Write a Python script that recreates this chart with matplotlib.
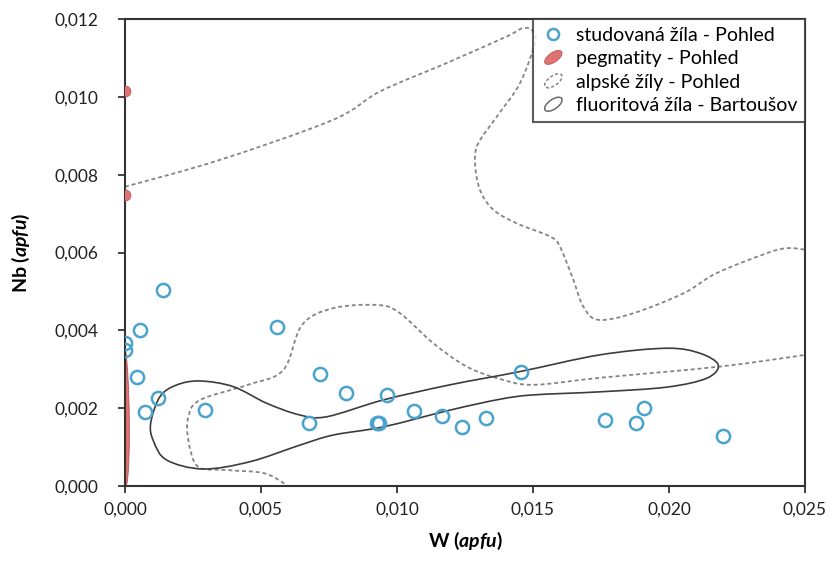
import matplotlib
matplotlib.use("Agg")
import numpy as np
import matplotlib.pyplot as plt
from matplotlib.patches import Ellipse, PathPatch
from matplotlib.path import Path
from matplotlib.legend_handler import HandlerPatch
from matplotlib.lines import Line2D

plt.rcParams['font.family'] = ['Lato', 'DejaVu Sans']
plt.rcParams['mathtext.fontset'] = 'custom'
plt.rcParams['mathtext.it'] = 'Lato:italic:bold'
plt.rcParams['mathtext.rm'] = 'Lato:bold'

# studied vein - Pohled (values in 1e-3 apfu)
w_vein = [0.0, 0.0, 0.55, 0.44, 0.74, 1.2, 1.4, 2.94, 5.59, 6.76, 7.17, 8.12,
          9.26, 9.33, 9.63, 10.63, 11.65, 12.39, 13.27, 14.56, 17.65, 18.79,
          19.08, 21.99]
nb_vein = [3.68, 3.5, 4.01, 2.8, 1.9, 2.26, 5.04, 1.95, 4.09, 1.62, 2.88, 2.39,
           1.62, 1.63, 2.34, 1.93, 1.8, 1.52, 1.75, 2.93, 1.7, 1.62, 2.0, 1.29]

# pegmatites - Pohled
w_peg = [0.0, 0.0]
nb_peg = [10.15, 7.48]
peg_field_w = [0.0, 0.07, 0.13, 0.16, 0.14, 0.08, 0.0, -0.08, -0.14, -0.16, -0.13, -0.07]
peg_field_nb = [3.55, 3.2, 2.5, 1.5, 0.6, 0.1, 0.0, 0.1, 0.6, 1.5, 2.5, 3.2]

# alpine veins - Pohled (dashed field, two visible branches)
alp_a_w = [0.0, 3.49, 7.65, 9.38, 11.83, 14.03, 14.64, 15.01, 15.07, 14.52, 13.67,
           12.99, 12.87, 13.05, 13.54, 14.40, 15.63, 15.99, 16.48, 16.85, 17.40,
           18.69, 20.53, 21.75, 23.59, 24.33, 25.0, 25.4]
alp_a_nb = [7.69, 8.38, 9.41, 10.14, 10.87, 11.55, 11.77, 11.68, 11.38, 10.35, 9.49,
            8.81, 8.30, 7.61, 7.10, 6.75, 6.41, 6.15, 5.30, 4.61, 4.27,
            4.44, 4.95, 5.47, 5.98, 6.11, 6.07, 5.95]
alp_b_w = [25.4, 25.0, 21.88, 17.46, 15.01, 13.79, 12.56, 11.33, 10.11, 9.30, 7.66,
           6.51, 5.82, 4.52, 2.76, 2.33, 2.33, 2.68, 3.74, 5.11, 5.88, 5.96]
alp_b_nb = [3.45, 3.37, 3.07, 2.78, 2.60, 2.75, 3.07, 3.67, 4.44, 4.65, 4.57,
            4.14, 2.98, 2.60, 2.21, 1.78, 1.18, 0.50, 0.41, 0.33, 0.05, -0.05]

# fluorite vein - Bartousov (solid field)
flu_w = [0.945, 1.287, 1.90, 2.757, 3.98, 5.21, 6.43, 7.42, 9.49, 11.95, 14.52,
         17.46, 19.91, 21.14, 21.81, 21.39, 19.91, 17.46, 15.0, 13.79, 11.95,
         9.50, 7.66, 6.43, 4.60, 2.87, 1.53, 1.05]
flu_nb = [1.612, 2.296, 2.596, 2.699, 2.553, 2.126, 1.825, 1.78, 2.21, 2.60, 2.94,
          3.37, 3.54, 3.41, 3.11, 2.77, 2.54, 2.42, 2.34, 2.23, 1.95,
          1.52, 1.31, 1.05, 0.625, 0.437, 0.668, 1.15]

xticks = [0, 5, 10, 15, 20, 25]
xticklabels = ['0,000', '0,005', '0,010', '0,015', '0,020', '0,025']
yticks = [0, 2, 4, 6, 8, 10, 12]
yticklabels = ['0,000', '0,002', '0,004', '0,006', '0,008', '0,010', '0,012']

blue = '#4aa3cf'
red_fill = '#e07272'
red_edge = '#b85454'
dash_col = '#8a8282'
solid_col = '#3c3c3c'


def smooth_path(xs, ys, closed=False):
    # smoothed line through the points (Catmull-Rom as cubic Bezier segments)
    pts = np.column_stack([xs, ys])
    n = len(pts)
    verts = [pts[0]]
    codes = [Path.MOVETO]
    segs = n if closed else n - 1
    for i in range(segs):
        if closed:
            p0, p1, p2, p3 = pts[(i - 1) % n], pts[i], pts[(i + 1) % n], pts[(i + 2) % n]
        else:
            p0, p1, p2, p3 = pts[max(i - 1, 0)], pts[i], pts[i + 1], pts[min(i + 2, n - 1)]
        verts += [p1 + (p2 - p0) / 6, p2 - (p3 - p1) / 6, p2]
        codes += [Path.CURVE4] * 3
    return Path(verts, codes)


class HandlerEllipse(HandlerPatch):
    def create_artists(self, legend, orig_handle, xdescent, ydescent,
                       width, height, fontsize, trans):
        c = (width / 2 - xdescent, height / 2 - ydescent)
        p = Ellipse(xy=c, width=width * 0.8, height=height * 0.7, angle=35)
        self.update_prop(p, orig_handle, legend)
        p.set_transform(trans)
        return [p]


fig = plt.figure(figsize=(8.31, 5.61), dpi=100)
ax = fig.add_axes([0.1504, 0.1337, 0.8183, 0.8324])

ax.add_patch(PathPatch(smooth_path(peg_field_w, peg_field_nb, closed=True),
                       facecolor=red_fill, edgecolor=red_edge, lw=0.6, zorder=2))
ax.scatter(w_peg, nb_peg, s=60, facecolor=red_fill, edgecolor=red_edge,
           lw=0.6, zorder=3)

for xs, ys in [(alp_a_w, alp_a_nb), (alp_b_w, alp_b_nb)]:
    ax.add_patch(PathPatch(smooth_path(xs, ys), fill=False, edgecolor=dash_col,
                           lw=1.3, ls=(0, (2.2, 1.6)), zorder=2))
ax.add_patch(PathPatch(smooth_path(flu_w, flu_nb, closed=True), fill=False,
                       edgecolor=solid_col, lw=1.2, zorder=2))

ax.plot(w_vein, nb_vein, 'o', ms=9.5, mfc='none', mec=blue, mew=1.8, zorder=4)

ax.set_xlim(0, 25)
ax.set_ylim(0, 12)
ax.set_xticks(xticks)
ax.set_xticklabels(xticklabels)
ax.set_yticks(yticks)
ax.set_yticklabels(yticklabels)
ax.tick_params(direction='out', length=5, width=1.2, labelsize=12.5,
               colors='#222222')
ax.tick_params(axis='y', pad=14)
ax.tick_params(axis='x', pad=6)
for s in ax.spines.values():
    s.set_linewidth(1.5)
    s.set_color('#333333')

ax.set_xlabel('W ($apfu$)', fontsize=14, fontweight='bold', labelpad=9)
ax.set_ylabel('Nb ($apfu$)', fontsize=14, fontweight='bold')
ax.yaxis.set_label_coords(-0.137, 0.5)

h1 = Line2D([], [], ls='none', marker='o', ms=8, mfc='none', mec=blue, mew=1.8)
h2 = Ellipse((0, 0), 1, 1, facecolor=red_fill, edgecolor=red_edge, lw=0.6)
h3 = Ellipse((0, 0), 1, 1, fill=False, edgecolor=dash_col, lw=1.1, ls=(0, (2, 1.5)))
h4 = Ellipse((0, 0), 1, 1, fill=False, edgecolor='#6a6a6a', lw=1.1)
leg = ax.legend([h1, h2, h3, h4],
                ['studovaná žíla - Pohled', 'pegmatity - Pohled',
                 'alpské žíly - Pohled', 'fluoritová žíla - Bartoušov'],
                handler_map={Ellipse: HandlerEllipse()},
                loc='upper right', bbox_to_anchor=(1.0, 1.0), fontsize=14,
                frameon=True, fancybox=False, borderpad=0.4, labelspacing=0.33,
                handlelength=1.3, handletextpad=0.5, borderaxespad=0)
leg.get_frame().set_edgecolor('#333333')
leg.get_frame().set_linewidth(1.5)

fig.savefig('out.png', dpi=100)
